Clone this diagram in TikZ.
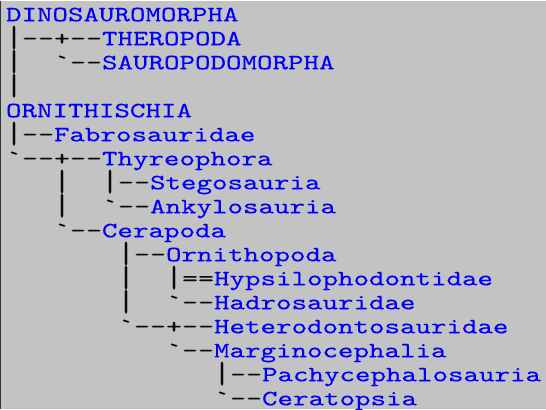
\documentclass[tikz,border=0pt]{standalone}
\usepackage{fontspec}
\usepackage{graphicx}
% wide slab-serif typewriter faces: branches on a 16pt grid, names a touch narrower
\setmonofont[FakeStretch=1.392,FakeBold=0.2]{lmmono10-regular.otf}
\newfontfamily\namefont[FakeStretch=1.348,FakeBold=0.2]{lmmono10-regular.otf}
\definecolor{panel}{RGB}{195,195,195}
\definecolor{nameblue}{RGB}{0,0,255}
\definecolor{branch}{RGB}{10,10,10}
\newcommand\nm[1]{{\namefont\textcolor{nameblue}{#1}}}
% vertical bar sized to one full line pitch so stacked bars join
\newcommand\vbar{\raisebox{-4.3pt}{\resizebox*{\width}{24pt}{\raisebox{\depth}{|}}}}
\begin{document}
\begin{tikzpicture}[x=1pt,y=-1pt,
  row/.style={anchor=base west, inner sep=0pt, outer sep=0pt, text=branch,
    font=\ttfamily\fontsize{21.9}{24}\selectfont}]
\fill[panel] (0,0) rectangle (546,408);
\draw[line width=1.2pt, draw=black!80] (0.6,0) -- (0.6,408);
\useasboundingbox (0,0) rectangle (546,408);
% one node per text line, baselines 24pt apart
\node[row] (l1)  at (6,20.7)  {\nm{DINOSAUROMORPHA}};
\node[row] (l2)  at (6,44.7)  {\vbar--+--\nm{THEROPODA}};
\node[row] (l3)  at (6,68.7)  {\vbar~~`--\nm{SAUROPODOMORPHA}};
\node[row] (l4)  at (6,92.7)  {\vbar};
\node[row] (l5)  at (6,116.7) {\nm{ORNITHISCHIA}};
\node[row] (l6)  at (6,140.7) {\vbar--\nm{Fabrosauridae}};
\node[row] (l7)  at (6,164.7) {`--+--\nm{Thyreophora}};
\node[row] (l8)  at (6,188.7) {~~~\vbar~~\vbar--\nm{Stegosauria}};
\node[row] (l9)  at (6,212.7) {~~~\vbar~~`--\nm{Ankylosauria}};
\node[row] (l10) at (6,236.7) {~~~`--\nm{Cerapoda}};
\node[row] (l11) at (6,260.7) {~~~~~~~\vbar--\nm{Ornithopoda}};
\node[row] (l12) at (6,284.7) {~~~~~~~\vbar~~\vbar==\nm{Hypsilophodontidae}};
\node[row] (l13) at (6,308.7) {~~~~~~~\vbar~~`--\nm{Hadrosauridae}};
\node[row] (l14) at (6,332.7) {~~~~~~~`--+--\nm{Heterodontosauridae}};
\node[row] (l15) at (6,356.7) {~~~~~~~~~~`--\nm{Marginocephalia}};
\node[row] (l16) at (6,380.7) {~~~~~~~~~~~~~\vbar--\nm{Pachycephalosauria}};
\node[row] (l17) at (6,404.7) {~~~~~~~~~~~~~`--\nm{Ceratopsia}};
\end{tikzpicture}
\end{document}
